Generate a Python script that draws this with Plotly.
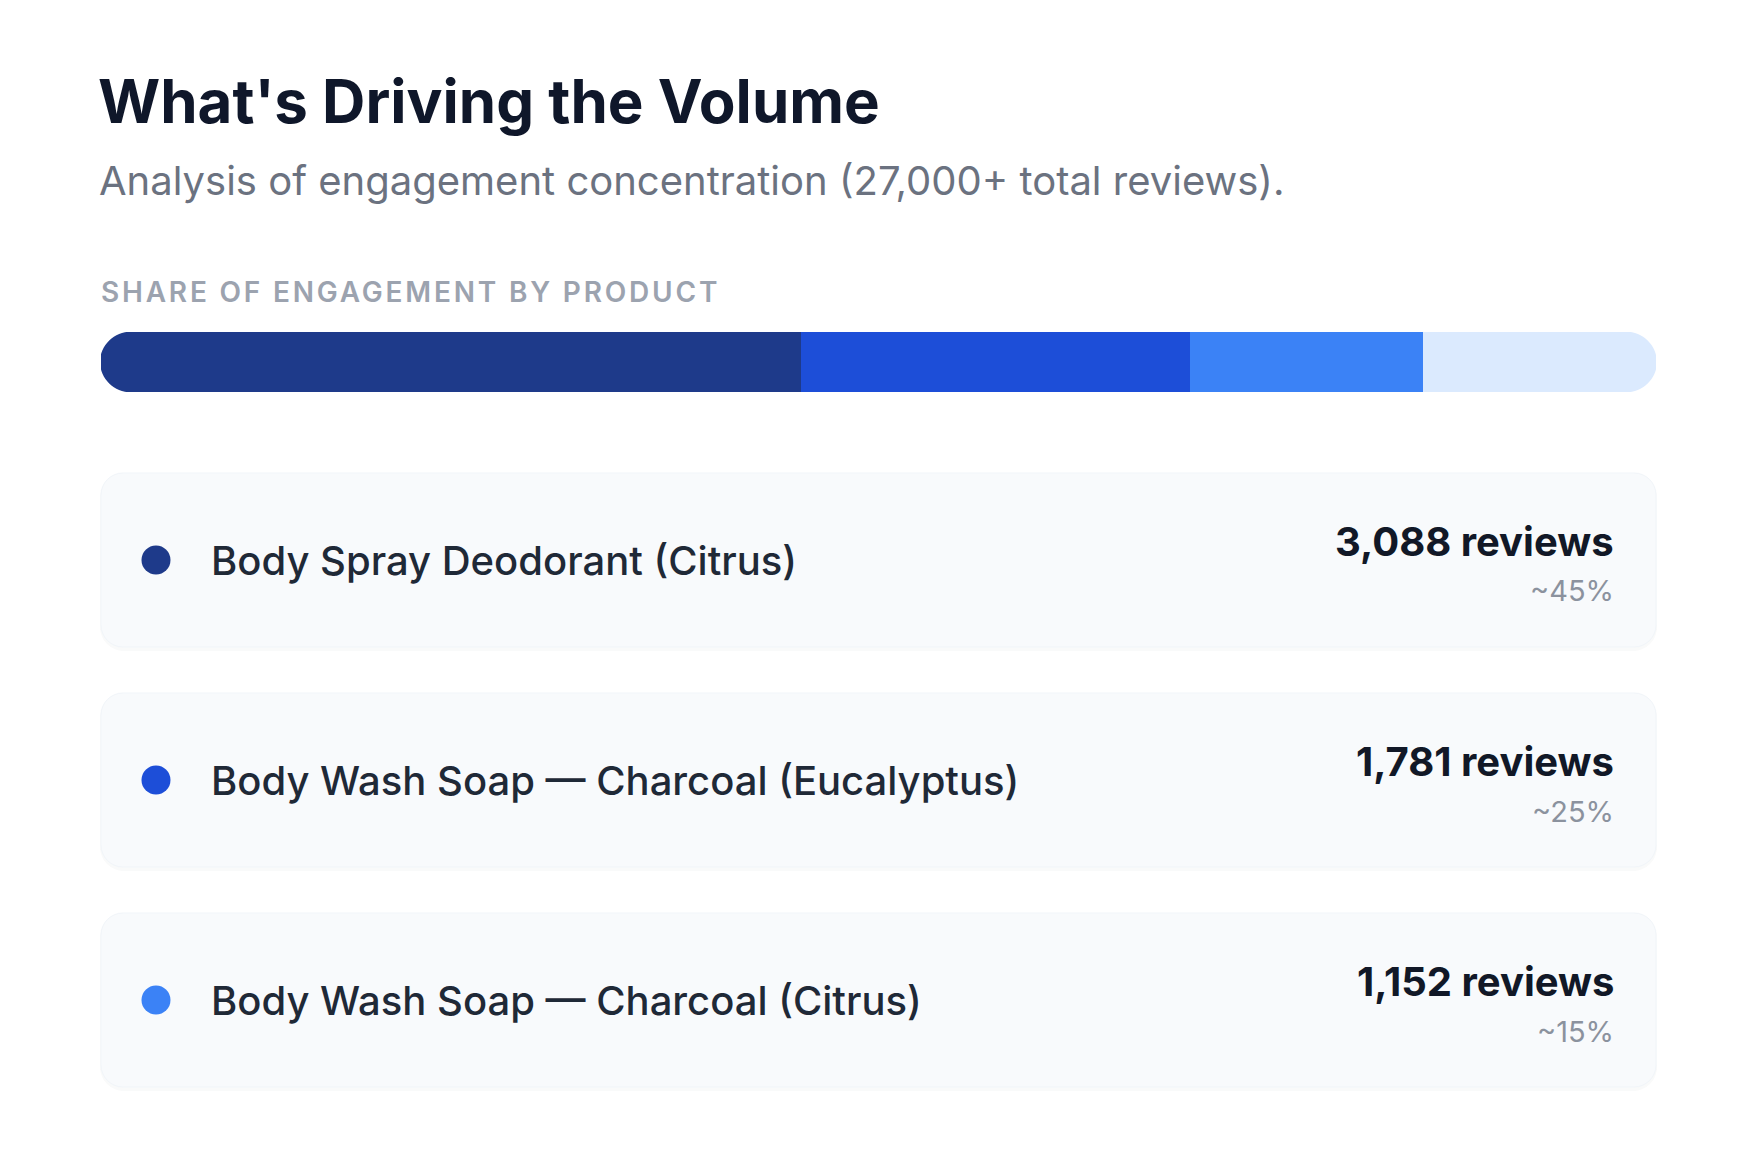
import plotly.graph_objects as go

W, H = 1759, 1163

# ---------------- data ----------------
title_text = "What's Driving the Volume"
subtitle_text = "Analysis of engagement concentration (27,000+ total reviews)."
section_label = "SHARE OF ENGAGEMENT BY PRODUCT"

segment_names = [
    "Body Spray Deodorant (Citrus)",
    "Body Wash Soap — Charcoal (Eucalyptus)",
    "Body Wash Soap — Charcoal (Citrus)",
    "Other",
]
segment_shares = [45, 25, 15, 15]
segment_colors = ["#1e3a8a", "#1d4ed8", "#3b82f6", "#dbeafe"]

products = segment_names[:3]
review_counts = [3088, 1781, 1152]
share_labels = ["~45%", "~25%", "~15%"]

# ---------------- layout helpers (pixel -> paper) ----------------
def px(x):
    return x / W

def py(y):
    return 1 - y / H

FONT = "Inter, 'Noto Sans', sans-serif"

BAR_L, BAR_R = 101, 1656
BAR_T, BAR_B = 332, 392

fig = go.Figure()

# stacked share bar
for name, share, col in zip(segment_names, segment_shares, segment_colors):
    fig.add_trace(go.Bar(
        y=[0], x=[share], orientation="h", width=[1],
        marker=dict(color=col, line=dict(width=0)),
        name=name, hoverinfo="skip", showlegend=False,
        xaxis="x", yaxis="y",
    ))

shapes = []

# white masks that round the two ends of the bar into a pill
r = (BAR_B - BAR_T) / 2
k = 0.5523 * r
L, Rr, T, B = BAR_L - 1, BAR_R + 1, BAR_T - 0.5, BAR_B + 0.5
mid = (T + B) / 2
left_mask = (
    f"M{px(L)},{py(T)} L{px(L + r + 1)},{py(T)} "
    f"C{px(L + r + 1 - k)},{py(T)} {px(L)},{py(mid - k)} {px(L)},{py(mid)} "
    f"C{px(L)},{py(mid + k)} {px(L + r + 1 - k)},{py(B)} {px(L + r + 1)},{py(B)} "
    f"L{px(L)},{py(B)} Z"
)
right_mask = (
    f"M{px(Rr)},{py(T)} L{px(Rr - r - 1)},{py(T)} "
    f"C{px(Rr - r - 1 + k)},{py(T)} {px(Rr)},{py(mid - k)} {px(Rr)},{py(mid)} "
    f"C{px(Rr)},{py(mid + k)} {px(Rr - r - 1 + k)},{py(B)} {px(Rr - r - 1)},{py(B)} "
    f"L{px(Rr)},{py(B)} Z"
)
for pth in (left_mask, right_mask):
    shapes.append(dict(type="path", xref="paper", yref="paper", layer="above",
                       path=pth, fillcolor="#ffffff", line=dict(width=0)))

# cards
CARD_L, CARD_R = 101, 1656
card_tops = [473, 693, 913]
CARD_H = 174
RC = 22

def rounded_path(x0, y0, x1, y1, rad):
    kk = 0.5523 * rad
    pts = [
        f"M{px(x0 + rad)},{py(y0)}",
        f"L{px(x1 - rad)},{py(y0)}",
        f"C{px(x1 - rad + kk)},{py(y0)} {px(x1)},{py(y0 + rad - kk)} {px(x1)},{py(y0 + rad)}",
        f"L{px(x1)},{py(y1 - rad)}",
        f"C{px(x1)},{py(y1 - rad + kk)} {px(x1 - rad + kk)},{py(y1)} {px(x1 - rad)},{py(y1)}",
        f"L{px(x0 + rad)},{py(y1)}",
        f"C{px(x0 + rad - kk)},{py(y1)} {px(x0)},{py(y1 - rad + kk)} {px(x0)},{py(y1 - rad)}",
        f"L{px(x0)},{py(y0 + rad)}",
        f"C{px(x0)},{py(y0 + rad - kk)} {px(x0 + rad - kk)},{py(y0)} {px(x0 + rad)},{py(y0)}",
        "Z",
    ]
    return " ".join(pts)

for t in card_tops:
    shapes.append(dict(type="path", xref="paper", yref="paper", layer="below",
                       path=rounded_path(CARD_L - 1, t + 1, CARD_R + 1, t + CARD_H + 4, RC + 2),
                       fillcolor="rgba(15,23,42,0.025)", line=dict(width=0)))
    shapes.append(dict(type="path", xref="paper", yref="paper", layer="below",
                       path=rounded_path(CARD_L, t, CARD_R, t + CARD_H, RC),
                       fillcolor="#f8fafc", line=dict(color="#f1f5f9", width=1)))

# legend dots (pixel-space helper axis)
dot_y = [t + CARD_H / 2 for t in card_tops]
fig.add_trace(go.Scatter(
    x=[156] * len(products), y=dot_y, mode="markers",
    marker=dict(size=29, color=segment_colors[:3], line=dict(width=0)),
    hoverinfo="skip", showlegend=False, xaxis="x2", yaxis="y2",
))

annotations = []
def ann(text, x, y, size, color, weight=400, xanchor="left"):
    annotations.append(dict(
        text=text, x=px(x), y=py(y), xref="paper", yref="paper",
        xanchor=xanchor, yanchor="middle", showarrow=False,
        font=dict(family=FONT, size=size, color=color, weight=weight),
    ))

ann(title_text, 96, 101, 60, "#0f172a", 700)
ann(subtitle_text, 97, 181, 40, "#6b7280", 400)
ann(f'<span style="letter-spacing:2.8px">{section_label}</span>', 99, 292, 28, "#9ca3af", 600)

for i, t in enumerate(card_tops):
    cy = t + CARD_H / 2
    ann(products[i], 209, cy, 40, "#1f2937", 500)
    ann(f"{review_counts[i]:,} reviews", 1616, t + 68, 40, "#111827", 700, xanchor="right")
    ann(share_labels[i], 1616, t + 118, 29, "#8b929e", 400, xanchor="right")

fig.update_layout(
    width=W, height=H,
    margin=dict(l=0, r=0, t=0, b=0),
    paper_bgcolor="#ffffff", plot_bgcolor="rgba(0,0,0,0)",
    barmode="stack",
    shapes=shapes, annotations=annotations,
    xaxis=dict(domain=[px(BAR_L), px(BAR_R)], range=[0, 100], visible=False, fixedrange=True),
    yaxis=dict(domain=[py(BAR_B), py(BAR_T)], range=[-0.5, 0.5], visible=False, fixedrange=True),
    xaxis2=dict(domain=[0, 1], range=[0, W], visible=False, fixedrange=True, anchor="y2"),
    yaxis2=dict(domain=[0, 1], range=[H, 0], visible=False, fixedrange=True, anchor="x2"),
    hovermode=False,
)

fig.write_html("out.html", config={"displayModeBar": False})
